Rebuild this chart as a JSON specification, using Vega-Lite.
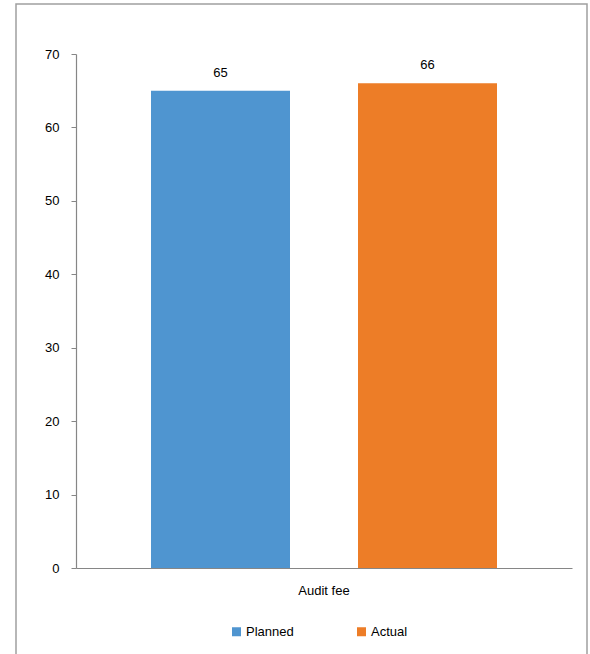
{
  "$schema": "https://vega.github.io/schema/vega-lite/v6.json",
  "width": 571,
  "height": 660,
  "autosize": {"type": "none"},
  "padding": {"left": 16, "top": 4, "right": 3, "bottom": 0},
  "background": "white",
  "config": {
    "view": {"stroke": "#A0A0A0", "strokeWidth": 1.5},
    "font": "Liberation Sans"
  },
  "data": {
    "values": [
      {"category": "Audit fee", "series": "Planned", "value": 65},
      {"category": "Audit fee", "series": "Actual", "value": 66}
    ]
  },
  "encoding": {
    "x": {
      "field": "category",
      "type": "nominal",
      "title": null,
      "scale": {"range": [60, 556], "paddingInner": 0, "paddingOuter": 0},
      "axis": {
        "orient": "bottom",
        "offset": -96,
        "labelAngle": 0,
        "ticks": false,
        "domainColor": "#868686",
        "domainWidth": 1.2,
        "labelPadding": 16,
        "labelFontSize": 13,
        "labelColor": "#000000",
        "labelFont": "Liberation Sans"
      }
    },
    "xOffset": {
      "field": "series",
      "type": "nominal",
      "sort": ["Planned", "Actual"],
      "scale": {"paddingInner": 0.3285, "paddingOuter": 0.3623}
    },
    "y": {
      "field": "value",
      "type": "quantitative",
      "title": null,
      "scale": {"domain": [0, 70], "range": [564, 50], "nice": false},
      "axis": {
        "offset": -60,
        "values": [0, 10, 20, 30, 40, 50, 60, 70],
        "grid": false,
        "domainColor": "#868686",
        "domainWidth": 1.2,
        "tickColor": "#868686",
        "tickSize": 5,
        "labelPadding": 12,
        "labelFontSize": 13,
        "labelColor": "#000000",
        "labelFont": "Liberation Sans"
      }
    }
  },
  "layer": [
    {
      "mark": {"type": "bar"},
      "encoding": {
        "color": {
          "field": "series",
          "type": "nominal",
          "sort": ["Planned", "Actual"],
          "title": null,
          "scale": {"domain": ["Planned", "Actual"], "range": ["#4F95D0", "#ED7D27"]},
          "legend": {
            "orient": "none",
            "legendX": 214,
            "legendY": 621,
            "direction": "horizontal",
            "symbolType": "square",
            "symbolSize": 81,
            "symbolStrokeWidth": 0,
            "labelOffset": 3,
            "labelFontSize": 13,
            "labelColor": "#000000",
            "labelFont": "Liberation Sans",
            "columnPadding": 61,
            "padding": 0
          }
        }
      }
    },
    {
      "mark": {"type": "text", "baseline": "middle", "dy": -18, "fontSize": 13, "color": "#000000", "font": "Liberation Sans"},
      "encoding": {"text": {"field": "value", "type": "quantitative"}}
    }
  ]
}
